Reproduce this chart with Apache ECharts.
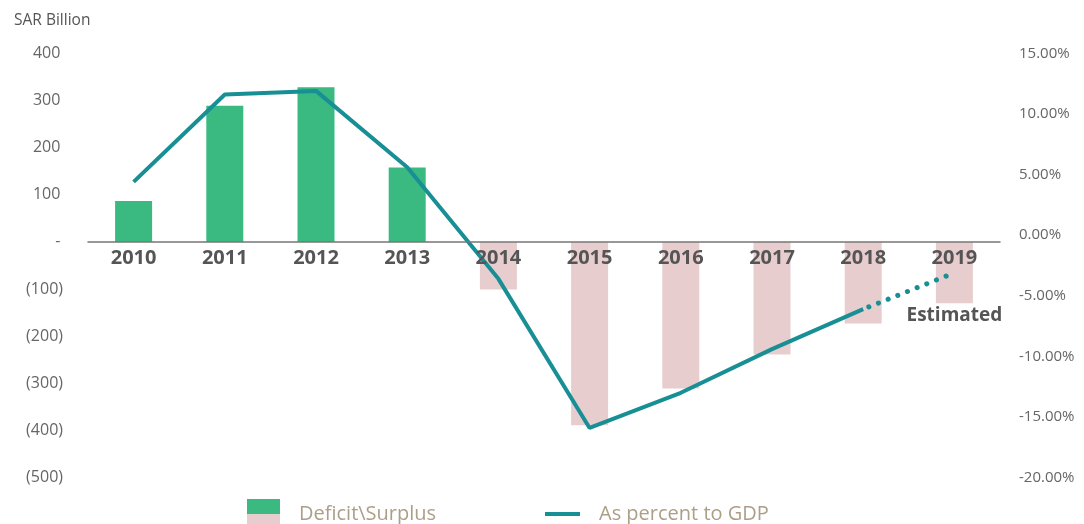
<!DOCTYPE html>
<html>
<head>
<meta charset="utf-8">
<script src="https://cdn.jsdelivr.net/npm/echarts@6/dist/echarts.min.js"></script>
<style>
html,body{margin:0;padding:0;background:#fff;}
#c{width:1084px;height:524px;}
</style>
</head>
<body>
<div id="c"></div>
<script>
const years = ['2010','2011','2012','2013','2014','2015','2016','2017','2018','2019'];
const balance = [87, 289, 328, 158, -101, -389, -311, -239, -173, -130];
const pctGDP = [4.4, 11.6, 11.9, 5.6, -3.6, -15.9, -13.0, -9.4, -6.1, -3.1];
const actualCount = 9; // 2010-2018 actual, 2019 estimated
const leftTicks = {min: -500, max: 400, interval: 100};
const rightTicks = {min: -20, max: 15, interval: 5};

const GREEN = '#3ab981', PINK = '#e8cdcf', TEAL = '#188f95';
const FONT = '"Open Sans"';

const GRID = {left: 88, right: 84, top: 53.3, bottom: 46.3};
const gridH = 524 - GRID.top - GRID.bottom;
// move the category axis up to the zero of the left value axis
const zeroOffset = -gridH * (0 - leftTicks.min) / (leftTicks.max - leftTicks.min);

const solidLine = pctGDP.map((v, i) => i < actualCount ? v : '-');
const dottedLine = pctGDP.map((v, i) => i >= actualCount - 1 ? v : '-');

const chart = echarts.init(document.getElementById('c'));
chart.setOption({
  animation: false,
  title: {
    text: 'SAR Billion', left: 9, top: 8,
    textStyle: {fontFamily: FONT, fontSize: 15.5, fontWeight: 'normal', color: '#555'}
  },
  grid: {left: GRID.left, right: GRID.right, top: GRID.top, bottom: GRID.bottom, containLabel: false},
  legend: [
    {
      left: 242, top: 494, itemWidth: 33, itemHeight: 30,
      data: [{name: 'Deficit\\Surplus', icon: 'rect'}],
      textStyle: {fontFamily: FONT, fontSize: 20, color: '#ab9f88', padding: [0, 0, 0, 14]}
    },
    {
      left: 540, top: 499, itemWidth: 35, itemHeight: 4,
      data: [{name: 'As percent to GDP', icon: 'rect'}],
      textStyle: {fontFamily: FONT, fontSize: 20, color: '#ab9f88', padding: [0, 0, 0, 14]}
    }
  ],
  xAxis: {
    type: 'category', data: years, z: 10,
    position: 'bottom', offset: zeroOffset,
    axisLine: {onZero: false, lineStyle: {color: '#777', width: 1.5}},
    axisTick: {show: false},
    axisLabel: {fontFamily: FONT, fontSize: 20, fontWeight: 'bold', color: '#555', margin: 6},
    splitLine: {show: false}
  },
  yAxis: [
    {
      type: 'value', min: leftTicks.min, max: leftTicks.max, interval: leftTicks.interval,
      axisLine: {show: false}, axisTick: {show: false}, splitLine: {show: false},
      axisLabel: {
        fontFamily: FONT, fontSize: 16, color: '#666', margin: 25,
        formatter: v => v < 0 ? '(' + Math.abs(v) + ')' : (v === 0 ? '-\u2009' : v + '\u2009')
      }
    },
    {
      type: 'value', min: rightTicks.min, max: rightTicks.max, interval: rightTicks.interval,
      axisLine: {show: false}, axisTick: {show: false}, splitLine: {show: false},
      axisLabel: {
        fontFamily: FONT, fontSize: 15, color: '#666', margin: 19,
        formatter: v => v.toFixed(2) + '%'
      }
    }
  ],
  series: [
    {
      name: 'Deficit\\Surplus', type: 'bar', yAxisIndex: 0, barWidth: 37,
      itemStyle: {
        color: new echarts.graphic.LinearGradient(0, 0, 0, 1, [
          {offset: 0, color: GREEN}, {offset: 0.5, color: GREEN},
          {offset: 0.5, color: PINK}, {offset: 1, color: PINK}
        ])
      },
      data: balance.map(v => ({value: v, itemStyle: {color: v >= 0 ? GREEN : PINK}})),
      z: 2
    },
    {
      name: 'As percent to GDP', type: 'line', yAxisIndex: 1,
      data: solidLine, symbol: 'none', showSymbol: false,
      itemStyle: {color: TEAL},
      lineStyle: {color: TEAL, width: 4},
      z: 4
    },
    {
      name: 'As percent to GDP', type: 'line', yAxisIndex: 1,
      data: dottedLine.map((v, i) => i === years.length - 1 ? {
        value: v,
        label: {
          show: true, position: 'bottom', distance: 33,
          formatter: 'Estimated',
          fontFamily: FONT, fontSize: 19, fontWeight: 'bold', color: '#555'
        }
      } : v),
      symbol: 'circle', symbolSize: 0.01, showSymbol: true,
      itemStyle: {color: TEAL},
      lineStyle: {color: TEAL, width: 5, type: [0.1, 10.3], cap: 'round', dashOffset: -6},
      z: 4
    }
  ]
});
</script>
</body>
</html>
